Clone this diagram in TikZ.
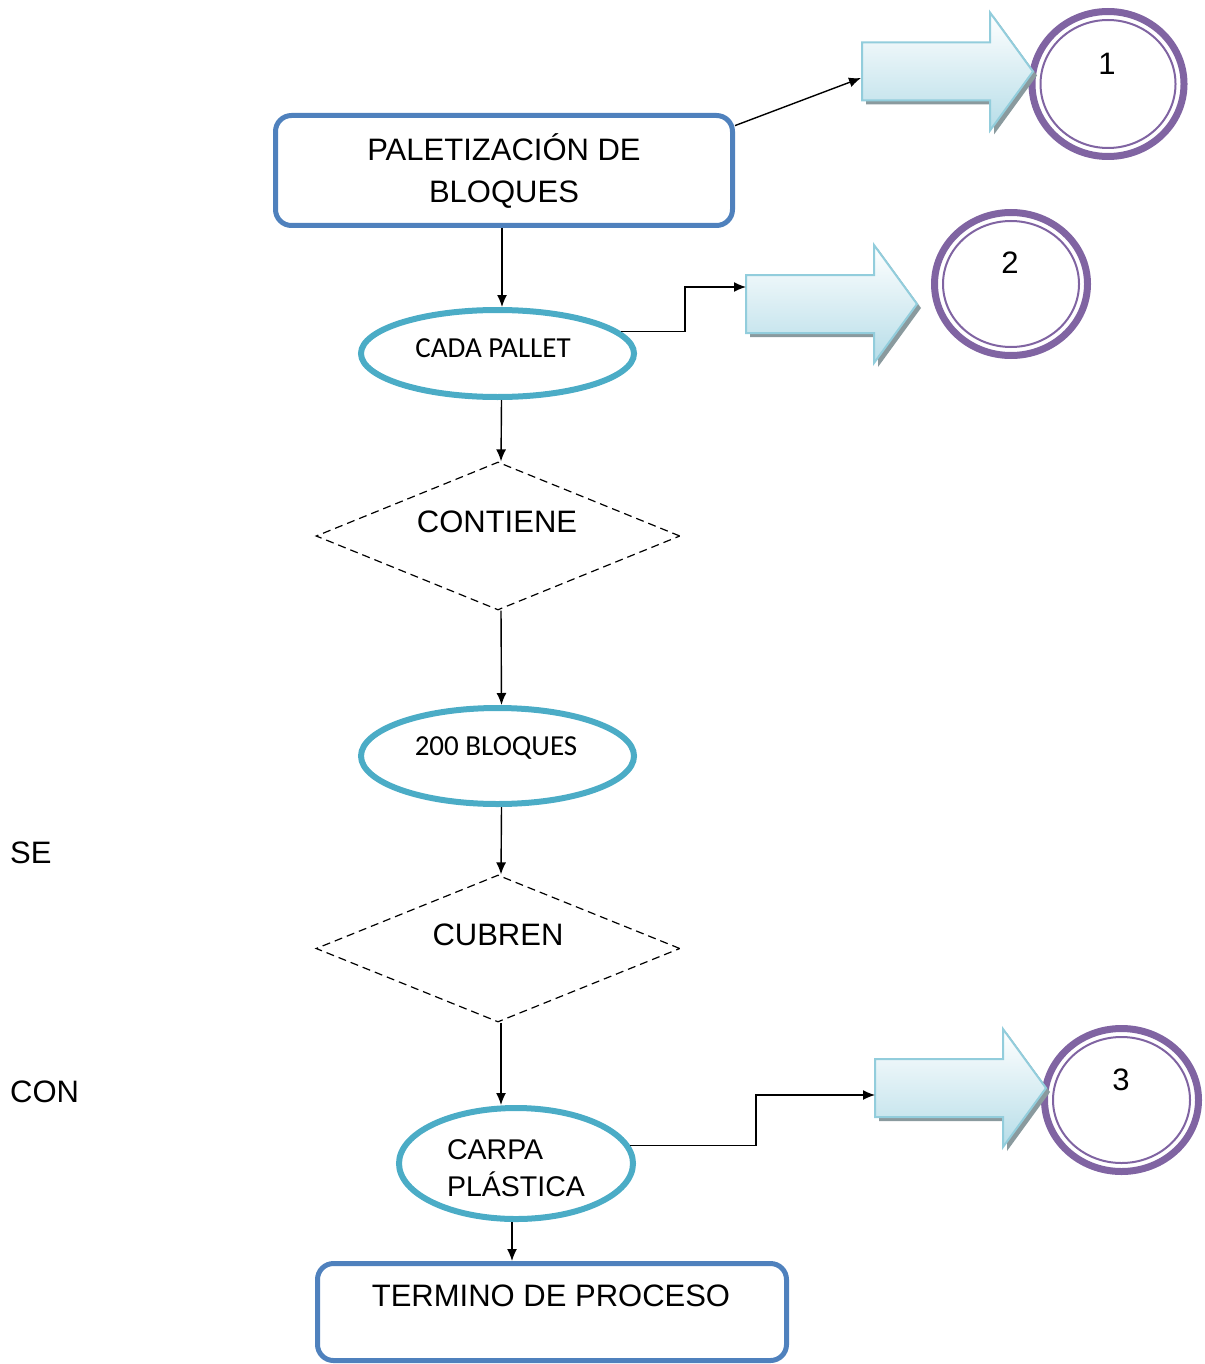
\documentclass[tikz,border=0pt]{standalone}
\usepackage{fontspec}
\setmainfont{Liberation Sans}
\newfontfamily\calfont{Carlito}
\usetikzlibrary{shapes.geometric,arrows.meta}
\definecolor{boxblue}{HTML}{4F81BD}
\definecolor{ellblue}{HTML}{4BACC6}
\definecolor{ringpurple}{HTML}{8064A2}
\definecolor{arrowline}{HTML}{92CDDC}
\definecolor{arrowfill}{HTML}{B6DDE8}
\definecolor{shadowc}{HTML}{8A9A9E}
\newcommand\blockarrow[2]{%
  \fill[shadowc] ({#1+4},{#2-25}) -- ({#1+132},{#2-25}) -- ({#1+132},{#2-55}) -- ({#1+175},{#2+4}) -- ({#1+132},{#2+63}) -- ({#1+132},{#2+33}) -- ({#1+4},{#2+33}) -- cycle;
  \shadedraw[top color=white, bottom color=arrowfill, draw=arrowline, line width=2] ({#1},{#2-29}) -- ({#1+128},{#2-29}) -- ({#1+128},{#2-59}) -- ({#1+171},{#2}) -- ({#1+128},{#2+59}) -- ({#1+128},{#2+29}) -- ({#1},{#2+29}) -- cycle;
}
\begin{document}
\begin{tikzpicture}[x=1pt,y=-1pt,
  every node/.style={inner sep=0pt},
  procbox/.style={draw=boxblue, line width=5, rounded corners=16},
  ovalbox/.style={ellipse, draw=ellblue, line width=6},
  decbox/.style={diamond, draw=black, line width=1.2, dash pattern=on 8pt off 5pt},
  ring/.style={ellipse, draw=ringpurple, line width=7, fill=white},
  link/.style={-{Latex[length=12,width=10]}, line width=1.4},
  bigtxt/.style={font=\fontsize{31}{42}\selectfont},
  caltxt/.style={font=\calfont\fontsize{29}{34}\selectfont},
]
\useasboundingbox (0,0) rectangle (1204,1364);

% process boxes
\node[procbox, minimum width=457, minimum height=110, align=center, bigtxt] (r1) at (504,170.5) {PALETIZACIÓN DE\\BLOQUES};
\node[procbox, minimum width=469, minimum height=97] (r2) at (552,1312) {};
\node[bigtxt] (r2t) at (551,1296) {TERMINO DE PROCESO};

% ovals
\node[ovalbox, minimum width=273, minimum height=87] (e1) at (497.5,353.5) {};
\node[caltxt] (e1t) at (493,348) {CADA PALLET};
\node[ovalbox, minimum width=273, minimum height=96] (e2) at (497.5,756) {};
\node[caltxt] (e2t) at (496,748) {200 BLOQUES};
\node[ovalbox, minimum width=234, minimum height=111] (e3) at (516,1163.5) {};
\node[align=left, font=\fontsize{28.5}{37}\selectfont] (e3t) at (516,1168) {CARPA\\PLÁSTICA};

% decisions
\node[decbox, minimum width=364, minimum height=148] (d1) at (498,536) {};
\node[bigtxt] (d1t) at (497,522) {CONTIENE};
\node[decbox, minimum width=364, minimum height=147] (d2) at (498,948.5) {};
\node[bigtxt] (d2t) at (498,935) {CUBREN};

% side labels
\node[bigtxt, anchor=west] (se) at (10,853) {SE};
\node[bigtxt, anchor=west] (con) at (10,1092) {CON};

% circles
\node[ring, minimum width=152, minimum height=145] (k1) at (1108,84) {};
\draw[ringpurple, line width=2] (k1.center) ellipse [x radius=67.5, y radius=64];
\node[bigtxt] (n1) at (1107,64) {1};
\node[ring, minimum width=153, minimum height=143] (k2) at (1011,284) {};
\draw[ringpurple, line width=2] (k2.center) ellipse [x radius=68, y radius=63];
\node[bigtxt] (n2) at (1010,263) {2};
\node[ring, minimum width=154, minimum height=143] (k3) at (1121.5,1100) {};
\draw[ringpurple, line width=2] (k3.center) ellipse [x radius=68.5, y radius=63];
\node[bigtxt] (n3) at (1121,1080) {3};

% block arrows
\blockarrow{862}{71.5}
\blockarrow{746}{304}
\blockarrow{875}{1088}
\coordinate (a1in) at (861,78);
\coordinate (a2in) at (746,287);
\coordinate (a3in) at (875,1095);
\coordinate (b2) at (685,287);
\coordinate (b3) at (756,1095);

% connectors
\draw[link] (r1.11) -- (a1in);
\draw[link] ([xshift=-2pt]r1.south) -- ([xshift=-2pt]r1.south |- e1.north);
\draw[link] ([xshift=4pt]e1.south) -- ([xshift=3pt]d1.north);
\draw[link] ([xshift=3pt]d1.south) -- ([xshift=4pt]e2.north);
\draw[link] ([xshift=4pt]e2.south) -- ([xshift=3pt]d2.north);
\draw[link] ([xshift=3pt]d2.south) -- ([xshift=3pt]d2.south |- e3.north);
\draw[link] (e1.10) -| (b2) -- (a2in);
\draw[link] (e3.9) -| (b3) -- (a3in);
\draw[link] ([xshift=-4pt]e3.south) -- ([xshift=-4pt]e3.south |- r2.north);
\end{tikzpicture}
\end{document}
